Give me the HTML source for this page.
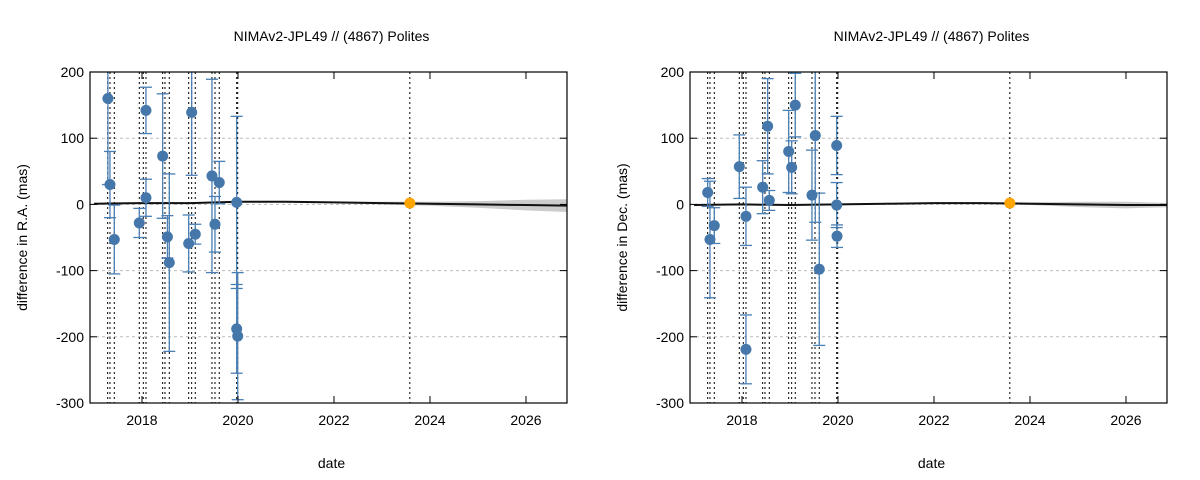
<!DOCTYPE html>
<html><head><meta charset="utf-8"><style>
body{margin:0;background:#fff;}
svg{display:block;font-family:"Liberation Sans",Arial,sans-serif;}
</style></head><body>
<svg id="chart" width="1200" height="480" viewBox="0 0 1200 480" xmlns="http://www.w3.org/2000/svg"></svg>
<script>
const obsDates=[2017.285,2017.333,2017.423,2017.944,2018.027,2018.083,2018.431,2018.479,2018.569,2018.973,2019.035,2019.11,2019.458,2019.521,2019.61,2019.973,2019.994,2023.58];
const raDates=[2017.29,2017.333,2017.423,2017.944,2018.083,2018.083,2018.431,2018.53,2018.569,2019.035,2018.973,2019.11,2019.458,2019.61,2019.521,2019.973,2019.973,2019.994];
const raValues=[160,30,-53,-28,142,10,73,-49,-88,139,-59,-45,43,33,-30,3,-188,-199];
const raErrors=[130,50,52,22,35,28,94,32,134,95,43,15,146,32,42,130,67,96];
const decDates=[2017.285,2017.333,2017.423,2017.944,2018.083,2018.083,2018.431,2018.535,2018.569,2018.973,2019.035,2019.11,2019.458,2019.527,2019.61,2019.973,2019.973,2019.98];
const decValues=[18,-53,-32,57,-18,-219,26,118,6,80,56,150,14,104,-98,89,-1,-48];
const decErrors=[21,88,27,48,44,52,40,72,15,62,40,48,68,131,115,44,34,17];
const refYears=[2017,2018,2019,2020,2021,2022,2023,2024,2025,2026,2027];
const raRef=[1,2,2,4,4,3,2,1,0,-1,-2];
const raBand=[0,0,0,0,0,0,1,2,4,7,9];
const decRef=[-1,0,-1,0,1,2,2,1,0,-1,-1];
const decBand=[0,0,0,0,0,0,0,1,3,4,2];
const orangeDate=2023.58, orangeValue=2;
const xTicks=[2018,2020,2022,2024,2026];
const yTicks=[200,100,0,-100,-200,-300];
const NS="http://www.w3.org/2000/svg";
const svg=document.getElementById('chart');
function el(tag,attrs,parent){const e=document.createElementNS(NS,tag);for(const k in attrs)e.setAttribute(k,attrs[k]);(parent||svg).appendChild(e);return e;}
function panel(ox,yLabel,dates,vals,errs,refv,band,pname){
  const L=90+ox,R=567+ox,T=72,B=403;
  const xs=y=>L+(y-2016.917)*48;
  const ys=v=>T+(200-v)*(B-T)/500;
  const g=el('g',{});
  
  
  const clip=el('clipPath',{id:'c'+pname},g);el('rect',{x:L,y:T,width:R-L,height:B-T},clip);
  const inner=el('g',{'clip-path':'url(#c'+pname+')'},g);
  yTicks.forEach(v=>{if(v===200||v===-300)return;const l=el('line',{x1:L,x2:R,y1:ys(v),y2:ys(v),stroke:'#bbb','stroke-dasharray':'3,3','stroke-width':1},inner);
    });
  obsDates.forEach(d=>{const l=el('line',{x1:xs(d),x2:xs(d),y1:T,y2:B,stroke:'#000','stroke-dasharray':'2,3','stroke-width':1},inner);
    });
  let up='',dn='';
  refYears.forEach((y,i)=>{up+=(i?'L':'M')+xs(y)+','+ys(refv[i]+band[i]+1);});
  for(let i=refYears.length-1;i>=0;i--)dn+='L'+xs(refYears[i])+','+ys(refv[i]-band[i]-1);
  const bp=el('path',{d:up+dn+'Z',fill:'#ccc'},inner);
  
  let lp='';refYears.forEach((y,i)=>{lp+=(i?'L':'M')+xs(y)+','+ys(refv[i]);});
  const rl=el('path',{d:lp,fill:'none',stroke:'#111','stroke-width':2},inner);
  
  dates.forEach((d,i)=>{const x=xs(d),y1=ys(vals[i]+errs[i]),y2=ys(vals[i]-errs[i]);
    const eg=el('g',{stroke:'#4a7fb5','stroke-width':1.3},inner);
    
    el('line',{x1:x,x2:x,y1:y1,y2:y2},eg);el('line',{x1:x-6,x2:x+6,y1:y1,y2:y1},eg);el('line',{x1:x-6,x2:x+6,y1:y2,y2:y2},eg);});
  dates.forEach((d,i)=>{const c=el('circle',{cx:xs(d),cy:ys(vals[i]),r:5.5,fill:'#4577aa'},inner);
    });
  const oc=el('circle',{cx:xs(orangeDate),cy:ys(orangeValue),r:5.5,fill:'#ffa500'},inner);
  
  const fr=el('rect',{x:L,y:T,width:R-L,height:B-T,fill:'none',stroke:'#000','stroke-width':1.2},g);
  
  xTicks.forEach(t=>{const x=xs(t);el('line',{x1:x,x2:x,y1:B,y2:B-7,stroke:'#000'},g);el('line',{x1:x,x2:x,y1:T,y2:T+7,stroke:'#000'},g);
    const tx=el('text',{x:x,y:B+22,'text-anchor':'middle','font-size':14,fill:'#000'},g);tx.textContent=t;
    });
  yTicks.forEach(v=>{const y=ys(v);el('line',{x1:L,x2:L+7,y1:y,y2:y,stroke:'#000'},g);el('line',{x1:R,x2:R-7,y1:y,y2:y,stroke:'#000'},g);
    const tx=el('text',{x:L-6,y:y+5,'text-anchor':'end','font-size':14,fill:'#000'},g);tx.textContent=v;
    });
  const ti=el('text',{x:(L+R)/2+3,y:41,'text-anchor':'middle','font-size':14,fill:'#000'},g);ti.textContent='NIMAv2-JPL49 // (4867) Polites';
  
  const xl=el('text',{x:(L+R)/2+3,y:468,'text-anchor':'middle','font-size':14,fill:'#000'},g);xl.textContent='date';
  
  const yl=el('text',{x:0,y:0,'text-anchor':'middle','font-size':14,fill:'#000',transform:'translate('+(ox+27)+','+((T+B)/2)+') rotate(-90)'},g);yl.textContent=yLabel;
  
}
panel(0,'difference in R.A. (mas)',raDates,raValues,raErrors,raRef,raBand,'ra');
panel(600,'difference in Dec. (mas)',decDates,decValues,decErrors,decRef,decBand,'dec');
</script>
</body></html>
